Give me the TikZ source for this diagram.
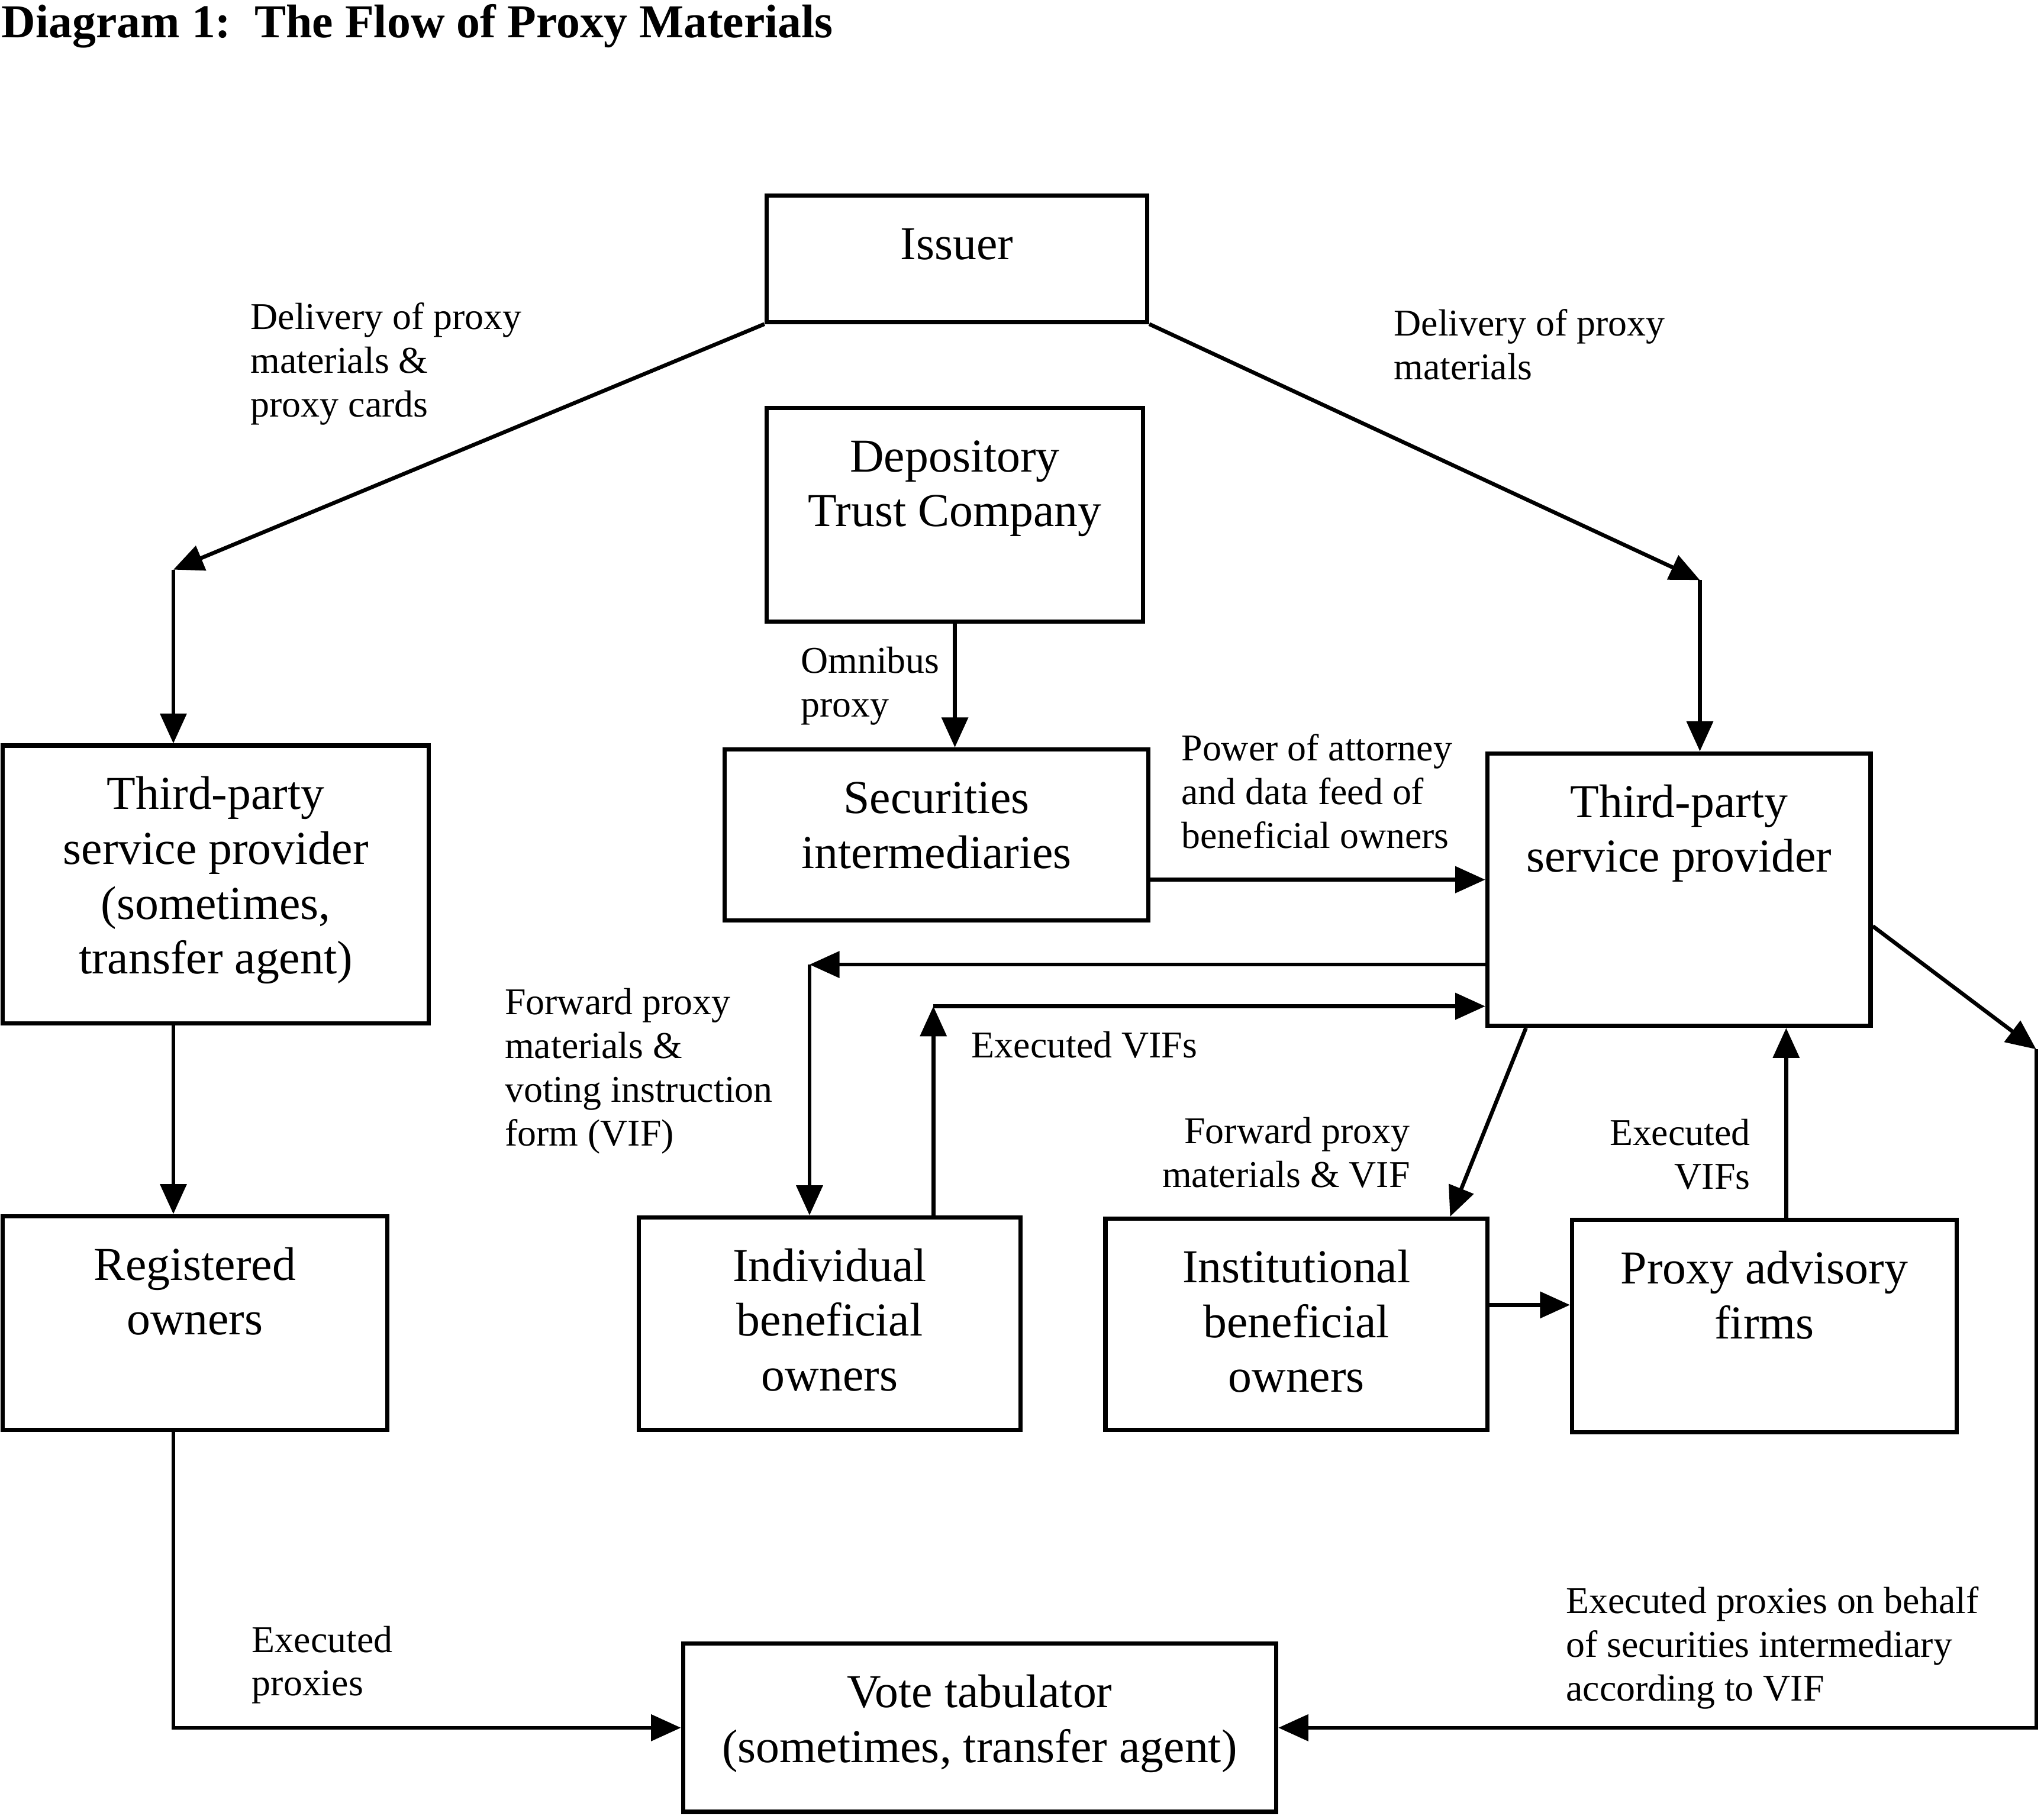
\documentclass[tikz,border=0pt]{standalone}
\usepackage{fontspec}
\setmainfont{Liberation Serif}
\usetikzlibrary{arrows.meta,calc}

\newlength{\px}\setlength{\px}{0.2mm}
\newcommand{\boxtext}[3]{\parbox[c][#2\px][t]{#1\px}{\centering\rule{0pt}{49\px}#3}}

\tikzset{
  block/.style={draw, line width=0.65mm, inner sep=0pt, font=\fontsize{20.6}{23.9}\selectfont},
  lbl/.style={inner sep=0pt, align=left, font=\fontsize{16.5}{19.1}\selectfont},
  flow/.style={line width=0.6mm, -{Triangle[length=4.6mm,width=4mm]}},
}

\begin{document}
\begin{tikzpicture}[x=0.2mm, y=-0.2mm]
  \useasboundingbox (0,0) rectangle (1568,1393);

  % title
  \node[inner sep=0pt, anchor=base west, font=\fontsize{20.6}{24}\selectfont\bfseries] (title) at (1,29) {Diagram 1:\ \ The Flow of Proxy Materials};

  % boxes
  \node[block] (issuer) at (734,198.5) {\boxtext{292}{97}{Issuer}};
  \node[block] (dtc) at (732.5,395) {\boxtext{289}{164}{Depository\\Trust Company}};
  \node[block] (secint) at (718.5,640.5) {\boxtext{325}{131}{Securities\\intermediaries}};
  \node[block] (tpsl) at (165.5,678.5) {\boxtext{327}{213}{Third-party\\service provider\\(sometimes,\\transfer agent)}};
  \node[block] (tpsr) at (1288,682.5) {\boxtext{294}{209}{Third-party\\service provider}};
  \node[block] (regown) at (149.5,1015) {\boxtext{295}{164}{Registered\\owners}};
  \node[block] (indown) at (636.5,1015.5) {\boxtext{293}{163}{Individual\\beneficial\\owners}};
  \node[block] (instown) at (994.5,1016) {\boxtext{293}{162}{Institutional\\beneficial\\owners}};
  \node[block] (advfirm) at (1353.5,1017.5) {\boxtext{295}{163}{Proxy advisory\\firms}};
  \node[block] (votetab) at (751.5,1325.5) {\boxtext{455}{129}{Vote tabulator\\(sometimes, transfer agent)}};

  % connectors
  \coordinate (lbend) at (133,437);
  \coordinate (rbend) at (1304,445);
  \draw[flow] (issuer.south west) -- (lbend);
  \draw[flow] (lbend) -- (lbend |- tpsl.north);
  \draw[flow] (issuer.south east) -- (rbend);
  \draw[flow] (rbend) -- (rbend |- tpsr.north);
  \draw[flow] (dtc.south) -- (dtc.south |- secint.north);
  \draw[flow] ($(secint.north east)!0.756!(secint.south east)$) coordinate (poa) -- (poa -| tpsr.west);

  \coordinate (vifdn) at (621,740);
  \draw[flow] (vifdn -| tpsr.west) -- (vifdn);
  \draw[flow] (vifdn) -- (vifdn |- indown.north);
  \coordinate (vifup) at (716,772);
  \draw[flow] (vifup |- indown.north) -- (vifup);
  \draw[flow] (vifup) -- (vifup -| tpsr.west);

  \draw[flow] ($(tpsr.south west)!0.105!(tpsr.south east)$) -- ($(instown.north west)!0.898!(instown.north east)$);
  \draw[flow] ($(instown.north east)!0.41!(instown.south east)$) coordinate (iadv) -- (iadv -| advfirm.west);
  \draw[flow] ($(advfirm.north west)!0.556!(advfirm.north east)$) coordinate (aup) -- (aup |- tpsr.south);

  \coordinate (rcorner) at (1562,805);
  \draw[flow] ($(tpsr.north east)!0.632!(tpsr.south east)$) -- (rcorner);
  \draw[flow] (rcorner) |- (votetab.east);
  \draw[flow] (tpsl.south -| lbend) -- (regown.north -| lbend);
  \draw[flow] (regown.south -| lbend) |- (votetab.west);

  % labels
  \node[lbl, anchor=north west] (lbldel1) at (192,232) {Delivery of proxy\\materials \&\\proxy cards};
  \node[lbl, anchor=north west] (lbldel2) at (1069,237) {Delivery of proxy\\materials};
  \node[lbl, anchor=north west] (lblomni) at (614,496) {Omnibus\\proxy};
  \node[lbl, anchor=north west] (lblpoa) at (906,563) {Power of attorney\\and data feed of\\beneficial owners};
  \node[lbl, anchor=north west] (lblfwd1) at (387,758) {Forward proxy\\materials \&\\voting instruction\\form (VIF)};
  \node[lbl, anchor=north west] (lblvif1) at (745,791) {Executed VIFs};
  \node[lbl, align=right, anchor=north east] (lblfwd2) at (1082,857) {Forward proxy\\materials \& VIF};
  \node[lbl, align=right, anchor=north east] (lblvif2) at (1343,858) {Executed\\VIFs};
  \node[lbl, anchor=north west] (lblexec1) at (193,1247) {Executed\\proxies};
  \node[lbl, anchor=north west] (lblexec2) at (1201,1217) {Executed proxies on behalf\\of securities intermediary\\according to VIF};
\end{tikzpicture}
\end{document}
